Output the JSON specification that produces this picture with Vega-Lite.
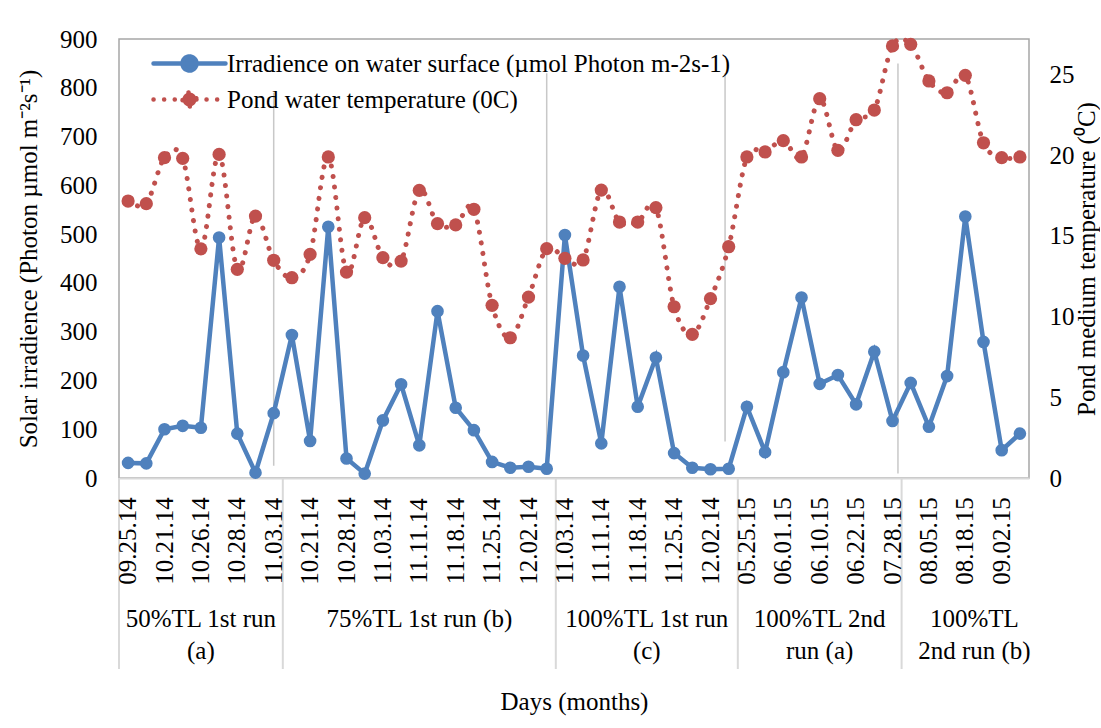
{
  "$schema": "https://vega.github.io/schema/vega-lite/v6.json",
  "background": "white",
  "padding": {"left": 15, "top": 26, "right": 0, "bottom": 5},
  "bounds": "flush",
  "spacing": 0,
  "config": {
    "font": "Liberation Serif",
    "view": {"stroke": null},
    "axis": {"grid": false, "labelColor": "black", "titleColor": "black", "labelFontSize": 25, "titleFontSize": 25, "titleFontWeight": "normal", "labelFont": "Liberation Serif", "titleFont": "Liberation Serif"},
    "legend": {
      "orient": "none", "legendX": 31, "legendY": 12, "title": null, "padding": 0,
      "symbolType": "M-1,0L7,0M3.778,0A0.778,0.778,0,1,1,2.222,0A0.778,0.778,0,1,1,3.778,0Z",
      "symbolSize": 324, "symbolStrokeWidth": 4.5,
      "labelFont": "Liberation Serif", "labelFontSize": 25, "labelColor": "black", "labelOffset": 52, "labelLimit": 800,
      "rowPadding": 3
    }
  },
  "datasets": {
    "pts": [
      {"i": 1, "date": "09.25.14", "irr": 31, "temp": 17.16},
      {"i": 2, "date": "", "irr": 30, "temp": 17.0},
      {"i": 3, "date": "10.21.14", "irr": 100, "temp": 19.85},
      {"i": 4, "date": "", "irr": 107, "temp": 19.8},
      {"i": 5, "date": "10.26.14", "irr": 103, "temp": 14.2},
      {"i": 6, "date": "", "irr": 493, "temp": 20.05},
      {"i": 7, "date": "10.28.14", "irr": 91, "temp": 12.93},
      {"i": 8, "date": "", "irr": 11, "temp": 16.23},
      {"i": 9, "date": "11.03.14", "irr": 133, "temp": 13.49},
      {"i": 10, "date": "", "irr": 293, "temp": 12.41},
      {"i": 11, "date": "10.21.14", "irr": 76, "temp": 13.86},
      {"i": 12, "date": "", "irr": 515, "temp": 19.89},
      {"i": 13, "date": "10.28.14", "irr": 40, "temp": 12.76},
      {"i": 14, "date": "", "irr": 9, "temp": 16.13},
      {"i": 15, "date": "11.03.14", "irr": 118, "temp": 13.65},
      {"i": 16, "date": "", "irr": 192, "temp": 13.44},
      {"i": 17, "date": "11.11.14", "irr": 67, "temp": 17.82},
      {"i": 18, "date": "", "irr": 342, "temp": 15.76},
      {"i": 19, "date": "11.18.14", "irr": 144, "temp": 15.68},
      {"i": 20, "date": "", "irr": 98, "temp": 16.65},
      {"i": 21, "date": "11.25.14", "irr": 33, "temp": 10.7},
      {"i": 22, "date": "", "irr": 21, "temp": 8.69},
      {"i": 23, "date": "12.02.14", "irr": 23, "temp": 11.21},
      {"i": 24, "date": "", "irr": 19, "temp": 14.21},
      {"i": 25, "date": "11.03.14", "irr": 498, "temp": 13.61},
      {"i": 26, "date": "", "irr": 251, "temp": 13.51},
      {"i": 27, "date": "11.11.14", "irr": 71, "temp": 17.84},
      {"i": 28, "date": "", "irr": 392, "temp": 15.86},
      {"i": 29, "date": "11.18.14", "irr": 146, "temp": 15.86},
      {"i": 30, "date": "", "irr": 247, "temp": 16.75},
      {"i": 31, "date": "11.25.14", "irr": 51, "temp": 10.61},
      {"i": 32, "date": "", "irr": 21, "temp": 8.9},
      {"i": 33, "date": "12.02.14", "irr": 18, "temp": 11.11},
      {"i": 34, "date": "", "irr": 19, "temp": 14.33},
      {"i": 35, "date": "05.25.15", "irr": 146, "temp": 19.89},
      {"i": 36, "date": "", "irr": 53, "temp": 20.2},
      {"i": 37, "date": "06.01.15", "irr": 217, "temp": 20.9},
      {"i": 38, "date": "", "irr": 370, "temp": 19.89},
      {"i": 39, "date": "06.10.15", "irr": 193, "temp": 23.5},
      {"i": 40, "date": "", "irr": 211, "temp": 20.3},
      {"i": 41, "date": "06.22.15", "irr": 151, "temp": 22.2},
      {"i": 42, "date": "", "irr": 259, "temp": 22.8},
      {"i": 43, "date": "07.28.15", "irr": 117, "temp": 26.77},
      {"i": 44, "date": "", "irr": 195, "temp": 26.87},
      {"i": 45, "date": "08.05.15", "irr": 105, "temp": 24.6},
      {"i": 46, "date": "", "irr": 209, "temp": 23.87},
      {"i": 47, "date": "08.18.15", "irr": 536, "temp": 24.95},
      {"i": 48, "date": "", "irr": 279, "temp": 20.77},
      {"i": 49, "date": "09.02.15", "irr": 57, "temp": 19.85},
      {"i": 50, "date": "", "irr": 91, "temp": 19.89}
    ],
    "seps": [
      {"pos": 9.0, "top": 790, "bottom": 25},
      {"pos": 24.0, "top": 830, "bottom": 45},
      {"pos": 33.8, "top": 830, "bottom": 75},
      {"pos": 43.3, "top": 850, "bottom": 9}
    ],
    "bounds": [{"b": 0.5}, {"b": 9.5}, {"b": 24.5}, {"b": 34.5}, {"b": 43.5}],
    "groups": [
      {"center": 5, "label": "50%TL 1st run\n(a)"},
      {"center": 17, "label": "75%TL 1st run (b)"},
      {"center": 29.5, "label": "100%TL 1st run\n(c)"},
      {"center": 39, "label": "100%TL 2nd\nrun (a)"},
      {"center": 47.5, "label": "100%TL\n2nd run (b)"}
    ]
  },
  "vconcat": [
    {
      "width": 910,
      "height": 439,
      "view": {"stroke": "#A6A6A6", "strokeWidth": 1.5},
      "resolve": {"scale": {"y": "independent"}},
      "layer": [
        {
          "layer": [
            {
              "data": {"name": "seps"},
              "mark": {"type": "rule", "color": "#C8C8C8", "strokeWidth": 1.5},
              "encoding": {
                "x": {"field": "pos", "type": "quantitative", "title": null, "scale": {"domain": [0.5, 50.5], "nice": false, "zero": false},
                      "axis": {"labels": false, "ticks": false, "title": null, "domainColor": "#D9D9D9", "domainWidth": 2}},
                "y": {"field": "top", "type": "quantitative", "title": "Solar irradience (Photon µmol m⁻²s⁻¹)", "scale": {"domain": [0, 900], "nice": false},
                      "axis": {"orient": "left", "values": [0, 100, 200, 300, 400, 500, 600, 700, 800, 900], "ticks": false, "domain": false, "labelPadding": 22, "titlePadding": 18}},
                "y2": {"field": "bottom"}
              }
            },
            {
              "data": {"name": "pts"},
              "mark": {"type": "line", "strokeWidth": 4.5},
              "encoding": {
                "x": {"field": "i", "type": "quantitative", "title": null},
                "y": {"field": "irr", "type": "quantitative", "title": "Solar irradience (Photon µmol m⁻²s⁻¹)"},
                "color": {"datum": "Irradience on water surface (µmol Photon m-2s-1)", "type": "nominal",
                          "scale": {"domain": ["Irradience on water surface (µmol Photon m-2s-1)", "Pond water temperature (0C)"], "range": ["#4F81BD", "#C0504D"]},
                          "legend": {"encode": {"symbols": {"update": {"fill": {"scale": "color", "field": "value"}, "strokeCap": {"value": "round"}, "strokeDash": {"signal": "datum.value == 'Pond water temperature (0C)' ? [0.1, 10.5] : [1, 0]"}}}}}}
              }
            },
            {
              "data": {"name": "pts"},
              "mark": {"type": "point", "filled": true, "size": 160, "opacity": 1},
              "encoding": {
                "x": {"field": "i", "type": "quantitative", "title": null},
                "y": {"field": "irr", "type": "quantitative", "title": "Solar irradience (Photon µmol m⁻²s⁻¹)"},
                "color": {"datum": "Irradience on water surface (µmol Photon m-2s-1)", "type": "nominal"}
              }
            }
          ]
        },
        {
          "layer": [
            {
              "data": {"name": "pts"},
              "mark": {"type": "line", "strokeWidth": 5, "interpolate": "cardinal", "strokeDash": [0.1, 10.5], "strokeCap": "round"},
              "encoding": {
                "x": {"field": "i", "type": "quantitative", "title": null},
                "y": {"field": "temp", "type": "quantitative", "title": "Pond medium temperature (⁰C)", "scale": {"domain": [0, 27.2], "nice": false},
                      "axis": {"orient": "right", "values": [0, 5, 10, 15, 20, 25], "ticks": false, "domain": false, "labelPadding": 20, "titlePadding": 0, "titleAngle": 270, "titleBaseline": "top"}},
                "color": {"datum": "Pond water temperature (0C)", "type": "nominal"}
              }
            },
            {
              "data": {"name": "pts"},
              "mark": {"type": "point", "filled": true, "size": 175, "opacity": 1},
              "encoding": {
                "x": {"field": "i", "type": "quantitative", "title": null},
                "y": {"field": "temp", "type": "quantitative", "title": "Pond medium temperature (⁰C)"},
                "color": {"datum": "Pond water temperature (0C)", "type": "nominal"}
              }
            }
          ]
        }
      ]
    },
    {
      "width": 910,
      "height": 126,
      "view": {"stroke": null},
      "layer": [
        {
          "data": {"name": "bounds"},
          "mark": {"type": "rule", "color": "#D9D9D9", "strokeWidth": 2},
          "encoding": {"x": {"field": "b", "type": "quantitative", "scale": {"domain": [0.5, 50.5], "nice": false, "zero": false}, "axis": null}}
        },
        {
          "data": {"name": "pts"},
          "transform": [{"filter": "datum.date != ''"}],
          "mark": {"type": "text", "angle": 270, "fontSize": 25, "align": "center", "baseline": "middle", "color": "black"},
          "encoding": {
            "x": {"field": "i", "type": "quantitative", "axis": null},
            "text": {"field": "date"}
          }
        }
      ]
    },
    {
      "width": 910,
      "height": 65,
      "view": {"stroke": null},
      "layer": [
        {
          "data": {"name": "bounds"},
          "mark": {"type": "rule", "color": "#D9D9D9", "strokeWidth": 2},
          "encoding": {"x": {"field": "b", "type": "quantitative", "scale": {"domain": [0.5, 50.5], "nice": false, "zero": false},
                             "title": "Days (months)",
                             "axis": {"labels": false, "ticks": false, "domain": false, "titlePadding": 20}}}
        },
        {
          "data": {"name": "groups"},
          "mark": {"type": "text", "fontSize": 25, "align": "center", "baseline": "top", "dy": -30, "color": "black", "lineBreak": "\n", "lineHeight": 32},
          "encoding": {
            "x": {"field": "center", "type": "quantitative", "title": "Days (months)"},
            "text": {"field": "label"}
          }
        }
      ]
    }
  ]
}
